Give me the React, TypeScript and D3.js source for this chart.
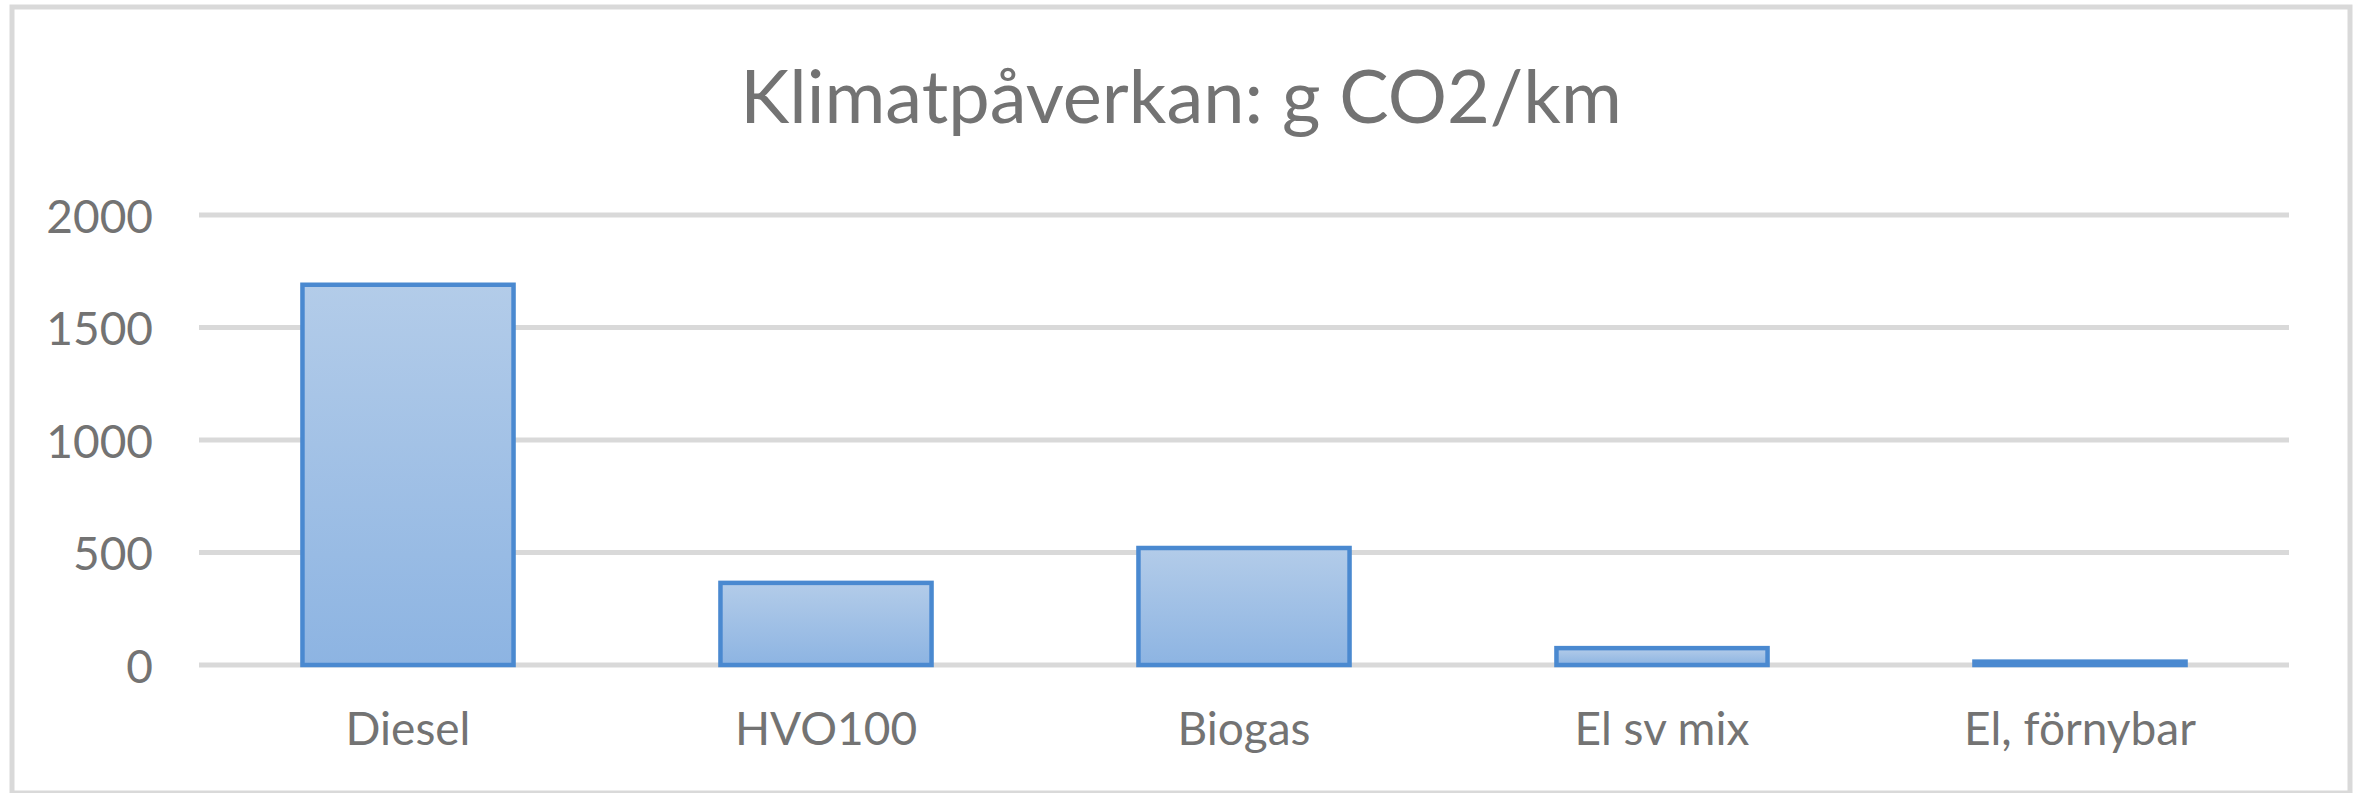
import React, { useEffect, useRef } from "react";
import * as d3 from "d3";

const categories = ["Diesel", "HVO100", "Biogas", "El sv mix", "El, förnybar"];
const values = [1690, 365, 520, 75, 15];
const yTicks = [0, 500, 1000, 1500, 2000];
const title = "Klimatpåverkan: g CO2/km";

const W = 2366;
const H = 793;
const FONT = "Lato, 'Open Sans', sans-serif";
const TEXT = "#737373";

export default function App() {
  const ref = useRef<SVGSVGElement>(null);

  useEffect(() => {
    const svg = d3.select(ref.current);
    svg.selectAll("*").remove();

    const x = d3.scaleBand().domain(categories).range([199, 2289]).paddingInner(0.495).paddingOuter(0.2475);
    const y = d3.scaleLinear().domain([0, 2000]).range([665, 215]);

    const defs = svg.append("defs");
    const grad = defs.append("linearGradient").attr("id", "barGrad")
      .attr("x1", 0).attr("y1", 0).attr("x2", 0).attr("y2", 1);
    grad.append("stop").attr("offset", "0%").attr("stop-color", "#b3cce9");
    grad.append("stop").attr("offset", "100%").attr("stop-color", "#8db4e2");

    svg.append("rect").attr("width", W).attr("height", H).attr("fill", "#fff");

    // chart border
    svg.append("rect")
      .attr("x", 12).attr("y", 7).attr("width", 2338).attr("height", 786)
      .attr("fill", "none").attr("stroke", "#d9d9d9").attr("stroke-width", 5);

    svg.append("text")
      .attr("x", 1181).attr("y", 123)
      .attr("text-anchor", "middle")
      .style("font-family", FONT).style("font-size", "74px").attr("fill", TEXT)
      .text(title);

    // gridlines
    svg.selectAll(".grid").data(yTicks).join("line")
      .attr("class", "grid")
      .attr("x1", 199).attr("x2", 2289)
      .attr("y1", (d) => y(d)).attr("y2", (d) => y(d))
      .attr("stroke", "#d9d9d9").attr("stroke-width", 5);

    svg.selectAll(".ylab").data(yTicks).join("text")
      .attr("class", "ylab")
      .attr("x", 153).attr("y", (d) => y(d))
      .attr("text-anchor", "end").attr("dominant-baseline", "central")
      .style("font-family", FONT).style("font-size", "46px").attr("fill", TEXT)
      .text((d) => String(d));

    svg.selectAll(".bar").data(values).join("rect")
      .attr("class", "bar")
      .attr("x", (d, i) => x(categories[i])!)
      .attr("y", (d) => y(d))
      .attr("width", x.bandwidth())
      .attr("height", (d) => y(0) - y(d))
      .attr("fill", "url(#barGrad)")
      .attr("stroke", "#4a89d0").attr("stroke-width", 4.5);

    svg.selectAll(".xlab").data(categories).join("text")
      .attr("class", "xlab")
      .attr("x", (d) => x(d)! + x.bandwidth() / 2).attr("y", 745)
      .attr("text-anchor", "middle")
      .style("font-family", FONT).style("font-size", "46px").attr("fill", TEXT)
      .text((d) => d);
  }, []);

  return (
    <div style={{ position: "absolute", left: 0, top: 0 }}>
      <svg ref={ref} width={W} height={H} style={{ display: "block" }} />
    </div>
  );
}
